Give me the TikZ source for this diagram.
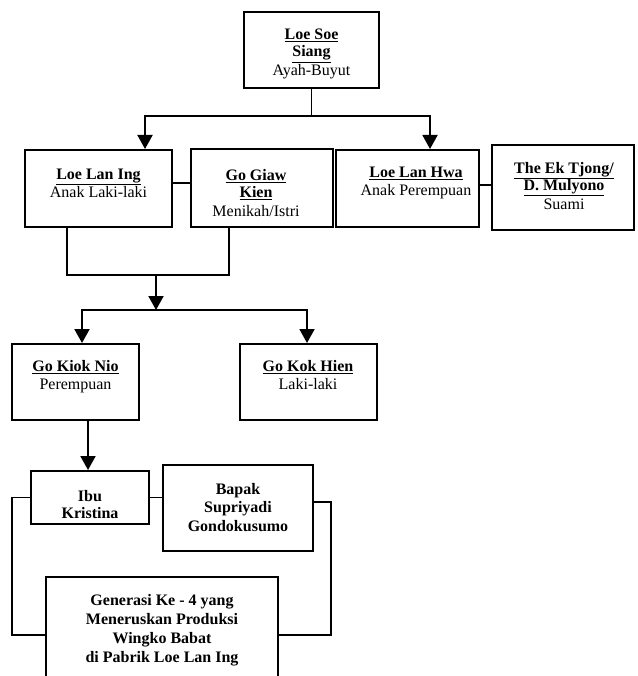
\documentclass[tikz,border=0pt]{standalone}
\usepackage{fontspec}
\setmainfont{Liberation Serif}
\usetikzlibrary{arrows.meta,positioning}

\begin{document}
\begin{tikzpicture}[x=1pt,y=-1pt,
  kotak/.style={draw, line width=2pt, inner sep=0pt},
  teks/.style={anchor=north, inner sep=0pt, align=center, font=\fontsize{16}{17}\selectfont},
  garis/.style={line width=1.9pt},
  panah/.style={line width=1.9pt, -{Triangle[width=15pt,length=14pt]}}]
%set diagram size: 637 x 676
\useasboundingbox (0,0) rectangle (637,676);

%Shape: Rectangle [generasi 1]
\node[kotak, minimum width=135, minimum height=76] (soe) at (311.5,50) {};
%Shape: Rectangle [generasi 2]
\node[kotak, minimum width=147, minimum height=77] (lanIng) at (98.5,188.5) {};
\node[kotak, minimum width=142, minimum height=78] (giaw) at (262,188) {};
\node[kotak, minimum width=143, minimum height=77] (lanHwa) at (407.5,188.5) {};
\node[kotak, minimum width=142, minimum height=85] (tjong) at (563,187.5) {};
%Shape: Rectangle [generasi 3]
\node[kotak, minimum width=127, minimum height=76] (kiok) at (75.5,382) {};
\node[kotak, minimum width=137, minimum height=76] (hien) at (308.5,382) {};
%Shape: Rectangle [generasi 4]
\node[kotak, minimum width=118, minimum height=53] (ibu) at (90,497.5) {};
\node[kotak, minimum width=150, minimum height=86] (bapak) at (238,508) {};
\node[kotak, minimum width=232, minimum height=123] (gen) at (162,638.5) {};

% Text Node
\node[teks] (tSoe) at (311.5,29) {\textbf{\underline{Loe Soe}}\\\textbf{\underline{Siang}}\\[2pt]Ayah-Buyut};
% Text Node
\node[teks] (tLanIng) at (98.5,169) {\textbf{\underline{Loe Lan Ing}}\\[1pt]Anak Laki-laki};
% Text Node
\node[teks] (tGiaw) at (256,169) {\textbf{\underline{Go Giaw}}\\\textbf{\underline{Kien}}\\[2pt]Menikah/Istri};
% Text Node
\node[teks] (tLanHwa) at (416,167) {\textbf{\underline{Loe Lan Hwa}}\\[1pt]Anak Perempuan};
% Text Node
\node[teks] (tTjong) at (564,162) {\textbf{\underline{The Ek Tjong/}}\\\textbf{\underline{D. Mulyono}}\\[2pt]Suami};
% Text Node
\node[teks] (tKiok) at (75.5,360) {\textbf{\underline{Go Kiok Nio}}\\[1pt]Perempuan};
% Text Node
\node[teks] (tHien) at (308,360) {\textbf{\underline{Go Kok Hien}}\\[1pt]Laki-laki};
% Text Node
\node[teks] (tIbu) at (90,490) {\textbf{Ibu}\\\textbf{Kristina}};
% Text Node
\node[teks, font=\fontsize{16}{18.5}\selectfont\bfseries] (tBapak) at (238,483) {Bapak\\Supriyadi\\Gondokusumo};
% Text Node
\node[teks, font=\fontsize{16}{19}\selectfont\bfseries] (tGen) at (162,594) {Generasi Ke - 4 yang\\Meneruskan Produksi\\Wingko Babat\\di Pabrik Loe Lan Ing};

%Straight Lines [garis keturunan]
\draw[garis] (soe.south) -- ++(0,27) coordinate (cabang1);
\draw[panah] (cabang1) -| ([xshift=46.5]lanIng.north);
\draw[panah] (cabang1) -| ([xshift=22.5]lanHwa.north);
%Straight Lines [pasangan]
\draw[garis] ([yshift=5.5]lanIng.east) -- ([yshift=5.5]lanIng.east -| giaw.west);
\draw[garis] ([yshift=3.5]lanHwa.east) -- ([yshift=3.5]lanHwa.east -| tjong.west);
%Straight Lines [anak]
\coordinate (gabung) at (156,275);
\draw[garis] ([xshift=-31.5]lanIng.south) |- (gabung);
\draw[garis] ([xshift=-33]giaw.south) |- (gabung);
\draw[panah] (gabung) -- ++(0,35) coordinate (cabang2);
\draw[panah] (cabang2) -| ([xshift=6.5]kiok.north);
\draw[panah] (cabang2) -| ([xshift=-1.5]hien.north);
\draw[panah] ([xshift=12.5]kiok.south) -- ([xshift=12.5]kiok.south |- ibu.north);
%Straight Lines [generasi ke-4]
\draw[garis] (ibu.east) -- (ibu.east -| bapak.west);
\draw[garis] (ibu.west) -- ++(-18,0) |- ([yshift=3.5]gen.west);
\draw[garis] ([yshift=6]bapak.east) -- ++(17,0) |- ([yshift=3.5]gen.east);

\end{tikzpicture}
\end{document}
